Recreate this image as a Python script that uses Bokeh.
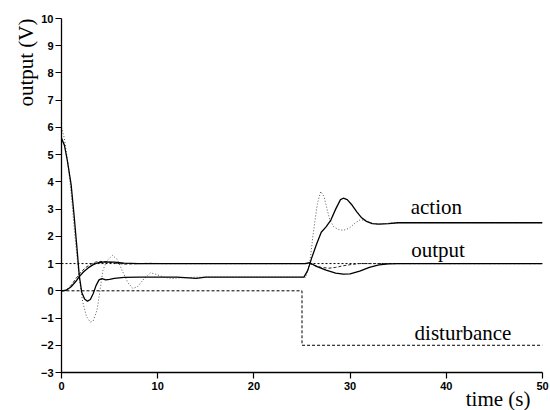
import math
from bokeh.plotting import figure
from bokeh.models import FixedTicker, Label, Title
from bokeh.embed import file_html
from bokeh.resources import INLINE

# ---- data ----
x_ticks = [0, 10, 20, 30, 40, 50]
y_ticks = list(range(-3, 11))

# control action, controller A (solid)
act_a_t = [0, 0.3, 0.6, 1.0, 1.3, 1.6, 1.85, 2.1, 2.4, 2.7, 3.0, 3.3, 3.6, 3.9, 4.2, 4.6, 5.0, 5.5, 6.5, 8,
           12, 14, 15, 25.2, 25.6, 26.0, 26.5, 27.0, 27.5, 28.0, 28.5, 29.0, 29.3, 29.7, 30.2, 30.7, 31.2,
           31.7, 32.3, 33.0, 34, 35, 50]
act_a_v = [5.6, 5.35, 4.8, 3.9, 2.8, 1.6, 0.55, -0.05, -0.3, -0.38, -0.32, -0.1, 0.2, 0.4, 0.45, 0.4, 0.42,
           0.46, 0.49, 0.5, 0.5, 0.46, 0.5, 0.5, 0.75, 1.2, 1.7, 2.15, 2.35, 2.6, 3.0, 3.35, 3.4, 3.35, 3.15,
           2.9, 2.68, 2.55, 2.47, 2.45, 2.47, 2.5, 2.5]

# control action, controller B (dotted)
act_b_t = [0, 0.3, 0.7, 1.0, 1.4, 1.8, 2.2, 2.6, 3.0, 3.3, 3.7, 4.0, 4.3, 4.7, 5.3, 5.8, 6.3, 6.9, 7.4, 7.9,
           8.6, 9.25, 9.9, 10.6, 11.5, 12.5, 14, 25.4, 25.8, 26.2, 26.6, 26.95, 27.3, 27.6, 27.9, 28.3,
           28.8, 29.3, 29.9, 30.5, 31.0, 31.5, 32, 32.7, 33.5, 34.5, 50]
act_b_v = [6.0, 5.6, 4.6, 3.6, 2.0, 0.6, -0.4, -0.95, -1.15, -1.1, -0.7, 0.0, 0.75, 1.1, 1.3, 1.15, 0.75,
           0.3, 0.09, 0.15, 0.45, 0.66, 0.6, 0.5, 0.45, 0.48, 0.5, 0.5, 1.0, 2.2, 3.2, 3.65, 3.45, 3.0, 2.6,
           2.35, 2.25, 2.22, 2.3, 2.48, 2.6, 2.6, 2.52, 2.45, 2.46, 2.5, 2.5]

# plant output, controller A (solid)
out_a_t = [0, 0.5, 1.0, 1.5, 1.85, 2.3, 2.8, 3.3, 3.8, 4.5, 5.5, 6.5, 8, 25.3, 25.8, 26.5, 27.5, 28.5, 29.3,
           30, 31, 32, 33, 34, 35, 50]
out_a_v = [0, 0.02, 0.15, 0.35, 0.52, 0.7, 0.85, 0.96, 1.03, 1.06, 1.05, 1.02, 1.0, 1.0, 1.03, 0.9, 0.76,
           0.65, 0.61, 0.62, 0.72, 0.86, 0.95, 0.99, 1.0, 1.0]

# plant output, controller B (dashed)
out_b_t = [0, 0.5, 1, 1.5, 2, 2.5, 3, 3.5, 4, 4.5, 5.5, 6.5, 7.5, 9, 10.5, 25.3, 25.8, 26.3, 27, 27.8, 28.5,
           29.3, 30.2, 31, 50]
out_b_v = [0, 0.02, 0.2, 0.45, 0.68, 0.85, 0.97, 1.05, 1.08, 1.07, 1.02, 0.98, 0.99, 1.01, 1.0, 1.0, 1.0,
           0.93, 0.86, 0.83, 0.86, 0.92, 0.97, 1.0, 1.0]

# set point
sp_t = [0, 50]
sp_v = [1, 1]

# disturbance
dist_t = [0, 25, 25, 50]
dist_v = [0, 0, -2, -2]

# ---- figure ----
p = figure(width=550, height=410, x_range=(0, 50), y_range=(-3, 10),
           output_backend="svg", toolbar_location=None,
           min_border_left=61, min_border_right=8, min_border_top=18, min_border_bottom=38)
p.outline_line_color = None
p.xgrid.grid_line_color = None
p.ygrid.grid_line_color = None
p.background_fill_color = "white"

for ax in (p.xaxis, p.yaxis):
    ax.axis_line_width = 1.3
    ax.axis_line_color = "black"
    ax.major_tick_line_color = "black"
    ax.major_tick_line_width = 1.2
    ax.major_tick_out = 6
    ax.major_tick_in = 0
    ax.minor_tick_line_color = None
    ax.major_label_text_font = "Liberation Sans"
    ax.major_label_text_font_style = "bold"
    ax.major_label_text_font_size = "11px"
    ax.major_label_text_color = "black"
p.xaxis.ticker = FixedTicker(ticks=x_ticks)
p.yaxis.ticker = FixedTicker(ticks=y_ticks)
p.xaxis.major_label_standoff = 3
p.yaxis.major_label_standoff = 2

p.line(sp_t, sp_v, line_color="black", line_width=1, line_dash="2 2")
p.line(dist_t, dist_v, line_color="black", line_width=1, line_dash="3 2")
p.line(act_b_t, act_b_v, line_color="#555555", line_width=1, line_dash="1 2")
p.line(out_b_t, out_b_v, line_color="#222222", line_width=1, line_dash="3 2")
p.line(out_a_t, out_a_v, line_color="black", line_width=1.3)
p.line(act_a_t, act_a_v, line_color="black", line_width=1.3)

serif = "Liberation Serif"
for txt, x, y in [("action", 36.3, 3.07), ("output", 36.35, 1.49), ("disturbance", 36.7, -1.56)]:
    p.add_layout(Label(x=x, y=y, text=txt, text_font=serif, text_font_size="21px",
                       text_baseline="alphabetic", text_align="left", text_color="black"))

xlab = Title(text="time (s)", align="right", text_font=serif, text_font_size="21px",
             text_font_style="normal", text_color="black", standoff=-15, offset=12)
p.add_layout(xlab, "below")

ylab = Title(text="output (V)", align="right", text_font=serif, text_font_size="21px",
             text_font_style="normal", text_color="black", standoff=0, offset=0)
p.add_layout(ylab, "left")

open("out.html", "w").write(file_html(p, INLINE))
